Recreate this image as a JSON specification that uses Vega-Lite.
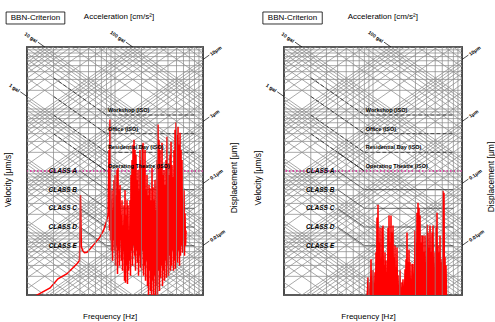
{
"$schema": "https://vega.github.io/schema/vega-lite/v6.json",
"background": "white",
"padding": {"left": 3, "top": 10, "right": 0, "bottom": 0},
"bounds": "flush",
"spacing": 81,
"config": {"font": "Liberation Sans", "view": {"stroke": "black", "strokeWidth": 1.7}},
"datasets": {
"hgrid": [{"v":1},{"v":2},{"v":3},{"v":4},{"v":5},{"v":6},{"v":7},{"v":8},{"v":9},{"v":10},{"v":20},{"v":30},{"v":40},{"v":50},{"v":60},{"v":70},{"v":80},{"v":90},{"v":100},{"v":200},{"v":300},{"v":400},{"v":500},{"v":600},{"v":700},{"v":800},{"v":900},{"v":1000},{"v":2000},{"v":3000},{"v":4000},{"v":5000},{"v":6000},{"v":7000},{"v":8000},{"v":9000},{"v":10000}],
"vgrid": [{"f":1},{"f":2},{"f":3},{"f":4},{"f":5},{"f":6},{"f":7},{"f":8},{"f":9},{"f":10},{"f":20},{"f":30},{"f":40},{"f":50},{"f":60},{"f":70},{"f":80},{"f":90},{"f":100}],
"diag": [
{"a":1.5915,"b":0.015915},{"a":3.1831,"b":0.031831},{"a":4.7746,"b":0.047746},{"a":6.3662,"b":0.063662},{"a":7.9577,"b":0.079577},{"a":9.5493,"b":0.095493},{"a":11.141,"b":0.11141},{"a":12.732,"b":0.12732},{"a":14.324,"b":0.14324},
{"a":15.915,"b":0.15915},{"a":31.831,"b":0.31831},{"a":47.746,"b":0.47746},{"a":63.662,"b":0.63662},{"a":79.577,"b":0.79577},{"a":95.493,"b":0.95493},{"a":111.41,"b":1.1141},{"a":127.32,"b":1.2732},{"a":143.24,"b":1.4324},
{"a":159.15,"b":1.5915},{"a":318.31,"b":3.1831},{"a":477.46,"b":4.7746},{"a":636.62,"b":6.3662},{"a":795.77,"b":7.9577},{"a":954.93,"b":9.5493},{"a":1114.1,"b":11.141},{"a":1273.2,"b":12.732},{"a":1432.4,"b":14.324},
{"a":1591.5,"b":15.915},{"a":3183.1,"b":31.831},{"a":4774.6,"b":47.746},{"a":6366.2,"b":63.662},{"a":7957.7,"b":79.577},{"a":9549.3,"b":95.493},{"a":11141,"b":111.41},{"a":12732,"b":127.32},{"a":14324,"b":143.24},
{"a":15915,"b":159.15},{"a":31831,"b":318.31},{"a":47746,"b":477.46},{"a":63662,"b":636.62},{"a":79577,"b":795.77},{"a":95493,"b":954.93},{"a":111410,"b":1114.1},{"a":127320,"b":1273.2},{"a":143240,"b":1432.4},
{"a":159150,"b":1591.5},{"a":318310,"b":3183.1},{"a":477460,"b":4774.6},{"a":636620,"b":6366.2},{"a":795770,"b":7957.7},{"a":954930,"b":9549.3},
{"a":0.012566,"b":1.2566},{"a":0.01885,"b":1.885},{"a":0.025133,"b":2.5133},{"a":0.031416,"b":3.1416},{"a":0.037699,"b":3.7699},{"a":0.043982,"b":4.3982},{"a":0.050265,"b":5.0265},{"a":0.056549,"b":5.6549},
{"a":0.062832,"b":6.2832},{"a":0.12566,"b":12.566},{"a":0.1885,"b":18.85},{"a":0.25133,"b":25.133},{"a":0.31416,"b":31.416},{"a":0.37699,"b":37.699},{"a":0.43982,"b":43.982},{"a":0.50265,"b":50.265},{"a":0.56549,"b":56.549},
{"a":0.62832,"b":62.832},{"a":1.2566,"b":125.66},{"a":1.885,"b":188.5},{"a":2.5133,"b":251.33},{"a":3.1416,"b":314.16},{"a":3.7699,"b":376.99},{"a":4.3982,"b":439.82},{"a":5.0265,"b":502.65},{"a":5.6549,"b":565.49},
{"a":6.2832,"b":628.32},{"a":12.566,"b":1256.6},{"a":18.85,"b":1885},{"a":25.133,"b":2513.3},{"a":31.416,"b":3141.6},{"a":37.699,"b":3769.9},{"a":43.982,"b":4398.2},{"a":50.265,"b":5026.5},{"a":56.549,"b":5654.9},
{"a":62.832,"b":6283.2},{"a":125.66,"b":12566},{"a":188.5,"b":18850},{"a":251.33,"b":25133},{"a":314.16,"b":31416},{"a":376.99,"b":37699},{"a":439.82,"b":43982},{"a":502.65,"b":50265},{"a":565.49,"b":56549},
{"a":628.32,"b":62832},{"a":1256.6,"b":125660},{"a":1885,"b":188500},{"a":2513.3,"b":251330},{"a":3141.6,"b":314160},{"a":3769.9,"b":376990},{"a":4398.2,"b":439820},{"a":5026.5,"b":502650},{"a":5654.9,"b":565490},
{"a":6283.2,"b":628320}],
"crit": [
{"f1":2,"v1":3200,"f2":8,"v2":800,"k":"iso"},{"f1":8,"v1":800,"f2":80,"v2":800,"k":"iso"},
{"f1":2,"v1":1600,"f2":8,"v2":400,"k":"iso"},{"f1":8,"v1":400,"f2":80,"v2":400,"k":"iso"},
{"f1":2,"v1":800,"f2":8,"v2":200,"k":"iso"},{"f1":8,"v1":200,"f2":80,"v2":200,"k":"iso"},
{"f1":2,"v1":400,"f2":8,"v2":100,"k":"iso"},
{"f1":4,"v1":200,"f2":8,"v2":100,"k":"vc"},
{"f1":4,"v1":100,"f2":8,"v2":50,"k":"vc"},{"f1":8,"v1":50,"f2":80,"v2":50,"k":"vc"},
{"f1":4,"v1":50,"f2":8,"v2":25,"k":"vc"},{"f1":8,"v1":25,"f2":80,"v2":25,"k":"vc"},
{"f1":4,"v1":25,"f2":8,"v2":12.5,"k":"vc"},{"f1":8,"v1":12.5,"f2":80,"v2":12.5,"k":"vc"},
{"f1":4,"v1":12.5,"f2":8,"v2":6.25,"k":"vc"},{"f1":8,"v1":6.25,"f2":80,"v2":6.25,"k":"vc"}],
"isolab": [{"t":"Workshop (ISO)","v":800},{"t":"Office (ISO)","v":400},{"t":"Residential Day (ISO)","v":200},{"t":"Operating Theatre (ISO)","v":100}],
"classlab": [{"t":"CLASS A","v":100},{"t":"CLASS B","v":50},{"t":"CLASS C","v":25},{"t":"CLASS D","v":12.5},{"t":"CLASS E","v":6.25}],
"lead": [
{"f1":1.5915,"v1":10000,"f2":1.33,"v2":11966},
{"f1":15.915,"v1":10000,"f2":13.3,"v2":11966},
{"f1":1,"v1":1591.5,"f2":0.84,"v2":1894.6},
{"f1":100,"v1":6283.2,"f2":118,"v2":7414.2},
{"f1":100,"v1":628.32,"f2":118,"v2":741.42},
{"f1":100,"v1":62.832,"f2":118,"v2":74.142},
{"f1":100,"v1":6.2832,"f2":118,"v2":7.4142}],
"gal": [{"t":"10 gal","f":1.29,"v":12337},{"t":"100 gal","f":12.9,"v":12337},{"t":"1 gal","f":0.815,"v":1952.8}],
"um": [{"t":"10μm","f":121,"v":7602.7},{"t":"1μm","f":121,"v":760.27},{"t":"0.1μm","f":121,"v":76.03},{"t":"0.01μm","f":121,"v":7.603}],
"redL": [
{"f":1.15,"v":0.85},{"f":1.3,"v":1.0},{"f":1.83,"v":1.3},{"f":2.25,"v":1.82},{"f":2.85,"v":2.2},{"f":3.7,"v":3.2},{"f":3.95,"v":3.6},{"f":4.05,"v":41},{"f":4.15,"v":6},{"f":4.3,"v":5.2},{"f":4.5,"v":4.8},{"f":4.8,"v":4.9},{"f":5.2,"v":5.5},{"f":5.9,"v":6.8},{"f":6.7,"v":8.5},{"f":7.4,"v":11},{"f":7.9,"v":14.5},{"f":8.33,"v":19.3},
{"f":8.55,"v":219},{"f":8.66,"v":11},{"f":8.77,"v":675},{"f":8.89,"v":7.55},{"f":9.01,"v":33.8},{"f":9.13,"v":5.19},{"f":9.25,"v":49.1},{"f":9.37,"v":3.57},{"f":9.49,"v":23.2},{"f":9.62,"v":7.55},{"f":9.74,"v":71.4},{"f":9.87,"v":5.19},{"f":10.0,"v":86},{"f":10.13,"v":2.96},{"f":10.27,"v":40.7},{"f":10.4,"v":6.26},{"f":10.54,"v":104},{"f":10.68,"v":2.19},{"f":10.82,"v":112},{"f":10.96,"v":5.19},{"f":11.1,"v":49.1},{"f":11.25,"v":2.96},{"f":11.4,"v":59.2},{"f":11.55,"v":7.55},{"f":11.7,"v":19.3},{"f":11.86,"v":3.57},{"f":12.01,"v":33.8},{"f":12.17,"v":2.46},{"f":12.33,"v":13.2},{"f":12.49,"v":5.19},{"f":12.66,"v":28},{"f":12.83,"v":1.69},{"f":13.0,"v":49.1},{"f":13.17,"v":1.57},{"f":13.34,"v":19.3},{"f":13.52,"v":2.96},{"f":13.69,"v":33.8},{"f":13.87,"v":1.51},{"f":14.06,"v":28},{"f":14.24,"v":2.46},{"f":14.43,"v":11},{"f":14.62,"v":3.57},{"f":14.81,"v":33.8},{"f":15.0,"v":2.04},{"f":15.2,"v":86},{"f":15.4,"v":5.19},{"f":15.61,"v":151},{"f":15.81,"v":2.96},{"f":16.02,"v":265},{"f":16.23,"v":6.26},{"f":16.45,"v":319},{"f":16.66,"v":4.31},{"f":16.88,"v":219},{"f":17.1,"v":2.46},{"f":17.33,"v":182},{"f":17.56,"v":5.19},{"f":17.79,"v":71.4},{"f":18.02,"v":3.31},{"f":18.26,"v":104},{"f":18.5,"v":2.04},{"f":18.74,"v":49.1},{"f":18.99,"v":4.31},{"f":19.24,"v":219},{"f":19.49,"v":2.75},{"f":19.75,"v":151},{"f":20.01,"v":2.46},{"f":20.28,"v":265},{"f":20.54,"v":5.19},{"f":20.81,"v":285},{"f":21.08,"v":2.04},{"f":21.36,"v":125},{"f":21.64,"v":2.96},{"f":21.93,"v":219},{"f":22.22,"v":1.69},{"f":22.51,"v":49.1},{"f":22.8,"v":3.57},{"f":23.11,"v":86},{"f":23.41,"v":1.4},{"f":23.72,"v":40.7},{"f":24.03,"v":0.95},{"f":24.35,"v":59.2},{"f":24.67,"v":2.46},{"f":25.0,"v":52.9},{"f":25.33,"v":1.16},{"f":25.66,"v":33.8},{"f":26.0,"v":0.95},{"f":26.34,"v":112},{"f":26.69,"v":1.69},{"f":27.04,"v":54.9},{"f":27.4,"v":0.95},{"f":27.76,"v":33.8},{"f":28.12,"v":2.04},{"f":28.49,"v":71.4},{"f":28.87,"v":0.95},{"f":29.25,"v":23.2},{"f":29.63,"v":1.4},{"f":30.02,"v":151},{"f":30.42,"v":0.95},{"f":30.82,"v":560},{"f":31.23,"v":2.46},{"f":31.64,"v":319},{"f":32.06,"v":1.16},{"f":32.48,"v":219},{"f":32.91,"v":1.89},{"f":33.34,"v":125},{"f":33.78,"v":2.96},{"f":34.22,"v":285},{"f":34.67,"v":1.4},{"f":35.13,"v":86},{"f":35.59,"v":2.46},{"f":36.06,"v":104},{"f":36.54,"v":1.69},{"f":37.02,"v":59.2},{"f":37.51,"v":3.57},{"f":38.0,"v":151},{"f":38.5,"v":1.89},{"f":39.01,"v":357},{"f":39.52,"v":2.96},{"f":40.04,"v":135},{"f":40.57,"v":2.04},{"f":41.1,"v":86},{"f":41.64,"v":4.31},{"f":42.19,"v":182},{"f":42.75,"v":2.46},{"f":43.31,"v":296},{"f":43.88,"v":2.96},{"f":44.46,"v":125},{"f":45.04,"v":5.19},{"f":45.64,"v":80},{"f":46.24,"v":2.46},{"f":46.85,"v":219},{"f":47.47,"v":3.57},{"f":48.09,"v":464},{"f":48.72,"v":2.65},{"f":49.37,"v":603},{"f":50.02,"v":4.31},{"f":50.67,"v":385},{"f":51.34,"v":3.31},{"f":52.02,"v":519},{"f":52.7,"v":5.19},{"f":53.4,"v":265},{"f":54.1,"v":2.96},{"f":54.81,"v":415},{"f":55.53,"v":4.31},{"f":56.27,"v":219},{"f":57.01,"v":6.26},{"f":57.76,"v":151},{"f":58.52,"v":4.82},{"f":59.29,"v":26},{"f":60.07,"v":7.55},{"f":60.86,"v":49.1},{"f":61.66,"v":4.31},{"f":62.48,"v":20.8},{"f":63.3,"v":6.26},{"f":64.13,"v":11}],
"redR": [
{"f":8.6,"v":0.9},{"f":8.79,"v":1.94},{"f":8.9,"v":0.9},{"f":9.02,"v":1.12},{"f":9.14,"v":0.9},{"f":9.26,"v":1.61},{"f":9.38,"v":0.9},{"f":9.5,"v":3.77},{"f":9.62,"v":0.9},{"f":9.75,"v":1.12},{"f":9.88,"v":0.9},{"f":10.0,"v":2.51},{"f":10.13,"v":0.9},{"f":10.26,"v":1.34},{"f":10.39,"v":0.9},{"f":10.53,"v":2.33},{"f":10.67,"v":0.9},{"f":10.81,"v":4.88},{"f":10.95,"v":0.9},{"f":11.09,"v":17.7},{"f":11.23,"v":0.9},{"f":11.38,"v":28.6},{"f":11.53,"v":0.9},{"f":11.68,"v":7.05},{"f":11.83,"v":0.9},{"f":11.99,"v":12.2},{"f":12.14,"v":0.9},{"f":12.3,"v":3.37},{"f":12.46,"v":0.9},{"f":12.62,"v":12.2},{"f":12.78,"v":0.9},{"f":12.95,"v":13.2},{"f":13.12,"v":0.9},{"f":13.29,"v":3.02},{"f":13.46,"v":0.9},{"f":13.64,"v":4.88},{"f":13.82,"v":0.9},{"f":14.0,"v":3.6},{"f":14.18,"v":0.9},{"f":14.37,"v":2.33},{"f":14.56,"v":0.9},{"f":14.74,"v":12.2},{"f":14.93,"v":0.9},{"f":15.13,"v":19.1},{"f":15.33,"v":0.9},{"f":15.53,"v":7.05},{"f":15.73,"v":0.9},{"f":15.93,"v":19.1},{"f":16.14,"v":0.9},{"f":16.35,"v":10.2},{"f":16.56,"v":0.9},{"f":16.78,"v":13.2},{"f":17.0,"v":0.9},{"f":17.22,"v":4.06},{"f":17.44,"v":0.9},{"f":17.67,"v":6.31},{"f":17.9,"v":0.9},{"f":18.13,"v":2.81},{"f":18.37,"v":0.9},{"f":18.61,"v":5.86},{"f":18.85,"v":0.9},{"f":19.1,"v":2.09},{"f":19.35,"v":0.9},{"f":19.6,"v":1.34},{"f":19.85,"v":0.9},{"f":20.11,"v":2.51},{"f":20.37,"v":0.9},{"f":20.64,"v":1.12},{"f":20.91,"v":0.9},{"f":21.18,"v":1.61},{"f":21.45,"v":0.9},{"f":21.73,"v":1.8},{"f":22.01,"v":0.9},{"f":22.3,"v":1.12},{"f":22.59,"v":0.9},{"f":22.89,"v":2.6},{"f":23.19,"v":0.9},{"f":23.49,"v":3.77},{"f":23.79,"v":0.9},{"f":24.1,"v":10.2},{"f":24.41,"v":0.9},{"f":24.74,"v":3.37},{"f":25.06,"v":0.9},{"f":25.38,"v":5.4},{"f":25.71,"v":0.9},{"f":26.05,"v":3.37},{"f":26.39,"v":0.9},{"f":26.73,"v":1.34},{"f":27.08,"v":0.9},{"f":27.43,"v":3.2},{"f":27.79,"v":0.9},{"f":28.15,"v":3.2},{"f":28.52,"v":0.9},{"f":28.89,"v":1.94},{"f":29.27,"v":0.9},{"f":29.65,"v":11},{"f":30.04,"v":0.9},{"f":30.42,"v":7.05},{"f":30.82,"v":0.9},{"f":31.22,"v":21.3},{"f":31.63,"v":0.9},{"f":32.04,"v":30.8},{"f":32.46,"v":0.9},{"f":32.88,"v":25.6},{"f":33.31,"v":0.9},{"f":33.74,"v":19.1},{"f":34.18,"v":0.9},{"f":34.62,"v":7.05},{"f":35.07,"v":0.9},{"f":35.53,"v":9.12},{"f":36.0,"v":0.9},{"f":36.46,"v":9.12},{"f":36.94,"v":0.9},{"f":37.42,"v":4.88},{"f":37.91,"v":0.9},{"f":38.4,"v":9.12},{"f":38.9,"v":0.9},{"f":39.4,"v":3.37},{"f":39.92,"v":0.9},{"f":40.44,"v":13.7},{"f":40.97,"v":0.9},{"f":41.5,"v":10.2},{"f":42.04,"v":0.9},{"f":42.58,"v":5.86},{"f":43.14,"v":0.9},{"f":43.7,"v":13.2},{"f":44.27,"v":0.9},{"f":44.85,"v":4.88},{"f":45.43,"v":0.9},{"f":46.02,"v":10.2},{"f":46.62,"v":0.9},{"f":47.23,"v":13.2},{"f":47.85,"v":0.9},{"f":48.47,"v":2.81},{"f":49.1,"v":0.9},{"f":49.74,"v":4.88},{"f":50.39,"v":0.9},{"f":51.04,"v":12.2},{"f":51.7,"v":0.9},{"f":52.38,"v":21.3},{"f":53.06,"v":0.9},{"f":53.75,"v":6.31},{"f":54.45,"v":0.9},{"f":55.16,"v":4.88},{"f":55.88,"v":0.9},{"f":56.61,"v":9.12},{"f":57.35,"v":0.9},{"f":58.09,"v":3.37},{"f":58.85,"v":0.9},{"f":59.62,"v":3.77},{"f":60.4,"v":0.9},{"f":61.18,"v":47.9},{"f":61.98,"v":0.9},{"f":62.78,"v":44.5},{"f":63.6,"v":0.9},{"f":64.43,"v":4.06},{"f":65.27,"v":0.9},{"f":66.12,"v":3.02},{"f":66.98,"v":0.9}],
"txtL": [{"t":"BBN-Criterion","f":1.247,"v":29400},{"t":"Acceleration [cm/s²]","f":11.1,"v":30500},{"t":"Frequency [Hz]","f":8.8,"v":0.44}],
"rotL": [{"t":"Velocity [μm/s]","f":0.616,"v":72},{"t":"Displacement [μm]","f":225,"v":77}],
"txtR": [{"t":"BBN-Criterion","f":1.247,"v":29400},{"t":"Acceleration [cm/s²]","f":12.9,"v":30500},{"t":"Frequency [Hz]","f":8.9,"v":0.44}],
"rotR": [{"t":"Velocity [μm/s]","f":0.51,"v":77},{"t":"Displacement [μm]","f":212,"v":80}]
},
"hconcat": [
{"width": 176, "height": 248, "layer": [
{"data": {"name": "hgrid"}, "mark": {"type": "rule", "color": "#8c8c8c", "strokeWidth": 0.75}, "encoding": {"y": {"field": "v", "type": "quantitative", "scale": {"type": "log", "domain": [1, 10000], "nice": false}, "axis": {"values": [1, 10, 100, 1000, 10000], "labelExpr": "datum.value == 1 ? '10⁰' : datum.value == 10 ? '10¹' : datum.value == 100 ? '10²' : datum.value == 1000 ? '10³' : '10⁴'", "grid": false, "domain": false, "tickSize": 3, "tickColor": "black", "tickWidth": 0.8, "labelFontSize": 5.5, "labelFontWeight": "bold", "labelPadding": 1, "labelColor": "black", "title": null}}}},
{"data": {"name": "diag"}, "mark": {"type": "rule", "color": "#8c8c8c", "strokeWidth": 0.75, "clip": true}, "encoding": {"x": {"datum": 1, "type": "quantitative", "scale": {"type": "log", "domain": [1, 100], "nice": false}, "axis": null}, "x2": {"datum": 100}, "y": {"field": "a", "type": "quantitative", "scale": {"type": "log", "domain": [1, 10000], "nice": false}, "axis": null}, "y2": {"field": "b"}}},
{"data": {"values": [{"v": 100}]}, "mark": {"type": "rule", "color": "#e0249a", "strokeWidth": 1.3, "strokeDash": [1.5, 2]}, "encoding": {"y": {"field": "v", "type": "quantitative", "scale": {"type": "log", "domain": [1, 10000], "nice": false}, "axis": null}}},
{"data": {"name": "crit"}, "mark": {"type": "rule", "color": "#222222", "strokeWidth": 0.8, "clip": true}, "encoding": {"x": {"field": "f1", "type": "quantitative", "scale": {"type": "log", "domain": [1, 100], "nice": false}, "axis": null}, "x2": {"field": "f2"}, "y": {"field": "v1", "type": "quantitative", "scale": {"type": "log", "domain": [1, 10000], "nice": false}, "axis": null}, "y2": {"field": "v2"}, "strokeDash": {"field": "k", "type": "nominal", "scale": {"domain": ["iso", "vc"], "range": [[4, 2], [1, 0]]}, "legend": null}}},
{"data": {"name": "redL"}, "mark": {"type": "line", "color": "#ff0000", "strokeWidth": 1.5, "clip": true}, "encoding": {"x": {"field": "f", "type": "quantitative", "scale": {"type": "log", "domain": [1, 100], "nice": false}, "axis": null}, "y": {"field": "v", "type": "quantitative", "scale": {"type": "log", "domain": [1, 10000], "nice": false}, "axis": null}}},
{"data": {"name": "vgrid"}, "mark": {"type": "rule", "color": "#8c8c8c", "strokeWidth": 0.75}, "encoding": {"x": {"field": "f", "type": "quantitative", "scale": {"type": "log", "domain": [1, 100], "nice": false}, "axis": {"values": [1, 10, 100], "labelExpr": "format(datum.value, 'd')", "grid": false, "domain": false, "tickSize": 2.5, "tickColor": "black", "tickWidth": 0.8, "labelFontSize": 5.5, "labelFontWeight": "bold", "labelPadding": 1.5, "labelColor": "black", "title": null}}}},
{"data": {"name": "isolab"}, "mark": {"type": "text", "align": "left", "baseline": "middle", "dy": -5, "fontSize": 5.5, "fontWeight": "bold", "color": "black"}, "encoding": {"x": {"datum": 8.3, "type": "quantitative", "scale": {"type": "log", "domain": [1, 100], "nice": false}, "axis": null}, "y": {"field": "v", "type": "quantitative", "scale": {"type": "log", "domain": [1, 10000], "nice": false}, "axis": null}, "text": {"field": "t"}}},
{"data": {"name": "classlab"}, "mark": {"type": "text", "align": "center", "baseline": "middle", "fontSize": 6.5, "fontWeight": "bold", "fontStyle": "italic", "color": "black"}, "encoding": {"x": {"datum": 2.55, "type": "quantitative", "scale": {"type": "log", "domain": [1, 100], "nice": false}, "axis": null}, "y": {"field": "v", "type": "quantitative", "scale": {"type": "log", "domain": [1, 10000], "nice": false}, "axis": null}, "text": {"field": "t"}}},
{"data": {"name": "lead"}, "mark": {"type": "rule", "color": "black", "strokeWidth": 0.7}, "encoding": {"x": {"field": "f1", "type": "quantitative", "scale": {"type": "log", "domain": [1, 100], "nice": false}, "axis": null}, "x2": {"field": "f2"}, "y": {"field": "v1", "type": "quantitative", "scale": {"type": "log", "domain": [1, 10000], "nice": false}, "axis": null}, "y2": {"field": "v2"}}},
{"data": {"name": "gal"}, "mark": {"type": "text", "align": "right", "baseline": "middle", "angle": 35, "fontSize": 5, "fontWeight": "bold", "color": "black"}, "encoding": {"x": {"field": "f", "type": "quantitative", "scale": {"type": "log", "domain": [1, 100], "nice": false}, "axis": null}, "y": {"field": "v", "type": "quantitative", "scale": {"type": "log", "domain": [1, 10000], "nice": false}, "axis": null}, "text": {"field": "t"}}},
{"data": {"name": "um"}, "mark": {"type": "text", "align": "left", "baseline": "middle", "angle": 325, "fontSize": 5, "fontWeight": "bold", "color": "black"}, "encoding": {"x": {"field": "f", "type": "quantitative", "scale": {"type": "log", "domain": [1, 100], "nice": false}, "axis": null}, "y": {"field": "v", "type": "quantitative", "scale": {"type": "log", "domain": [1, 10000], "nice": false}, "axis": null}, "text": {"field": "t"}}},
{"data": {"values": [{}]}, "mark": {"type": "rect", "fill": "white", "stroke": "black", "strokeWidth": 0.8}, "encoding": {"x": {"datum": 0.579, "type": "quantitative", "scale": {"type": "log", "domain": [1, 100], "nice": false}, "axis": null}, "x2": {"datum": 2.69}, "y": {"datum": 36700, "type": "quantitative", "scale": {"type": "log", "domain": [1, 10000], "nice": false}, "axis": null}, "y2": {"datum": 23500}}},
{"data": {"name": "txtL"}, "mark": {"type": "text", "align": "center", "baseline": "middle", "fontSize": 8, "color": "black"}, "encoding": {"x": {"field": "f", "type": "quantitative", "scale": {"type": "log", "domain": [1, 100], "nice": false}, "axis": null}, "y": {"field": "v", "type": "quantitative", "scale": {"type": "log", "domain": [1, 10000], "nice": false}, "axis": null}, "text": {"field": "t"}}},
{"data": {"name": "rotL"}, "mark": {"type": "text", "align": "center", "baseline": "middle", "angle": 270, "fontSize": 8.5, "color": "black"}, "encoding": {"x": {"field": "f", "type": "quantitative", "scale": {"type": "log", "domain": [1, 100], "nice": false}, "axis": null}, "y": {"field": "v", "type": "quantitative", "scale": {"type": "log", "domain": [1, 10000], "nice": false}, "axis": null}, "text": {"field": "t"}}}
]},
{"width": 178, "height": 248, "layer": [
{"data": {"name": "hgrid"}, "mark": {"type": "rule", "color": "#8c8c8c", "strokeWidth": 0.75}, "encoding": {"y": {"field": "v", "type": "quantitative", "scale": {"type": "log", "domain": [1, 10000], "nice": false}, "axis": {"values": [1, 10, 100, 1000, 10000], "labelExpr": "datum.value == 1 ? '10⁰' : datum.value == 10 ? '10¹' : datum.value == 100 ? '10²' : datum.value == 1000 ? '10³' : '10⁴'", "grid": false, "domain": false, "tickSize": 3, "tickColor": "black", "tickWidth": 0.8, "labelFontSize": 5.5, "labelFontWeight": "bold", "labelPadding": 1, "labelColor": "black", "title": null}}}},
{"data": {"name": "diag"}, "mark": {"type": "rule", "color": "#8c8c8c", "strokeWidth": 0.75, "clip": true}, "encoding": {"x": {"datum": 1, "type": "quantitative", "scale": {"type": "log", "domain": [1, 100], "nice": false}, "axis": null}, "x2": {"datum": 100}, "y": {"field": "a", "type": "quantitative", "scale": {"type": "log", "domain": [1, 10000], "nice": false}, "axis": null}, "y2": {"field": "b"}}},
{"data": {"values": [{"v": 100}]}, "mark": {"type": "rule", "color": "#e0249a", "strokeWidth": 1.3, "strokeDash": [1.5, 2]}, "encoding": {"y": {"field": "v", "type": "quantitative", "scale": {"type": "log", "domain": [1, 10000], "nice": false}, "axis": null}}},
{"data": {"name": "crit"}, "mark": {"type": "rule", "color": "#222222", "strokeWidth": 0.8, "clip": true}, "encoding": {"x": {"field": "f1", "type": "quantitative", "scale": {"type": "log", "domain": [1, 100], "nice": false}, "axis": null}, "x2": {"field": "f2"}, "y": {"field": "v1", "type": "quantitative", "scale": {"type": "log", "domain": [1, 10000], "nice": false}, "axis": null}, "y2": {"field": "v2"}, "strokeDash": {"field": "k", "type": "nominal", "scale": {"domain": ["iso", "vc"], "range": [[4, 2], [1, 0]]}, "legend": null}}},
{"data": {"name": "redR"}, "mark": {"type": "line", "color": "#ff0000", "strokeWidth": 1.5, "clip": true}, "encoding": {"x": {"field": "f", "type": "quantitative", "scale": {"type": "log", "domain": [1, 100], "nice": false}, "axis": null}, "y": {"field": "v", "type": "quantitative", "scale": {"type": "log", "domain": [1, 10000], "nice": false}, "axis": null}}},
{"data": {"name": "vgrid"}, "mark": {"type": "rule", "color": "#8c8c8c", "strokeWidth": 0.75}, "encoding": {"x": {"field": "f", "type": "quantitative", "scale": {"type": "log", "domain": [1, 100], "nice": false}, "axis": {"values": [1, 10, 100], "labelExpr": "format(datum.value, 'd')", "grid": false, "domain": false, "tickSize": 2.5, "tickColor": "black", "tickWidth": 0.8, "labelFontSize": 5.5, "labelFontWeight": "bold", "labelPadding": 1.5, "labelColor": "black", "title": null}}}},
{"data": {"name": "isolab"}, "mark": {"type": "text", "align": "left", "baseline": "middle", "dy": -5, "fontSize": 5.5, "fontWeight": "bold", "color": "black"}, "encoding": {"x": {"datum": 8.3, "type": "quantitative", "scale": {"type": "log", "domain": [1, 100], "nice": false}, "axis": null}, "y": {"field": "v", "type": "quantitative", "scale": {"type": "log", "domain": [1, 10000], "nice": false}, "axis": null}, "text": {"field": "t"}}},
{"data": {"name": "classlab"}, "mark": {"type": "text", "align": "center", "baseline": "middle", "fontSize": 6.5, "fontWeight": "bold", "fontStyle": "italic", "color": "black"}, "encoding": {"x": {"datum": 2.55, "type": "quantitative", "scale": {"type": "log", "domain": [1, 100], "nice": false}, "axis": null}, "y": {"field": "v", "type": "quantitative", "scale": {"type": "log", "domain": [1, 10000], "nice": false}, "axis": null}, "text": {"field": "t"}}},
{"data": {"name": "lead"}, "mark": {"type": "rule", "color": "black", "strokeWidth": 0.7}, "encoding": {"x": {"field": "f1", "type": "quantitative", "scale": {"type": "log", "domain": [1, 100], "nice": false}, "axis": null}, "x2": {"field": "f2"}, "y": {"field": "v1", "type": "quantitative", "scale": {"type": "log", "domain": [1, 10000], "nice": false}, "axis": null}, "y2": {"field": "v2"}}},
{"data": {"name": "gal"}, "mark": {"type": "text", "align": "right", "baseline": "middle", "angle": 35, "fontSize": 5, "fontWeight": "bold", "color": "black"}, "encoding": {"x": {"field": "f", "type": "quantitative", "scale": {"type": "log", "domain": [1, 100], "nice": false}, "axis": null}, "y": {"field": "v", "type": "quantitative", "scale": {"type": "log", "domain": [1, 10000], "nice": false}, "axis": null}, "text": {"field": "t"}}},
{"data": {"name": "um"}, "mark": {"type": "text", "align": "left", "baseline": "middle", "angle": 325, "fontSize": 5, "fontWeight": "bold", "color": "black"}, "encoding": {"x": {"field": "f", "type": "quantitative", "scale": {"type": "log", "domain": [1, 100], "nice": false}, "axis": null}, "y": {"field": "v", "type": "quantitative", "scale": {"type": "log", "domain": [1, 10000], "nice": false}, "axis": null}, "text": {"field": "t"}}},
{"data": {"values": [{}]}, "mark": {"type": "rect", "fill": "white", "stroke": "black", "strokeWidth": 0.8}, "encoding": {"x": {"datum": 0.579, "type": "quantitative", "scale": {"type": "log", "domain": [1, 100], "nice": false}, "axis": null}, "x2": {"datum": 2.69}, "y": {"datum": 36700, "type": "quantitative", "scale": {"type": "log", "domain": [1, 10000], "nice": false}, "axis": null}, "y2": {"datum": 23500}}},
{"data": {"name": "txtR"}, "mark": {"type": "text", "align": "center", "baseline": "middle", "fontSize": 8, "color": "black"}, "encoding": {"x": {"field": "f", "type": "quantitative", "scale": {"type": "log", "domain": [1, 100], "nice": false}, "axis": null}, "y": {"field": "v", "type": "quantitative", "scale": {"type": "log", "domain": [1, 10000], "nice": false}, "axis": null}, "text": {"field": "t"}}},
{"data": {"name": "rotR"}, "mark": {"type": "text", "align": "center", "baseline": "middle", "angle": 270, "fontSize": 8.5, "color": "black"}, "encoding": {"x": {"field": "f", "type": "quantitative", "scale": {"type": "log", "domain": [1, 100], "nice": false}, "axis": null}, "y": {"field": "v", "type": "quantitative", "scale": {"type": "log", "domain": [1, 10000], "nice": false}, "axis": null}, "text": {"field": "t"}}}
]}
]
}
